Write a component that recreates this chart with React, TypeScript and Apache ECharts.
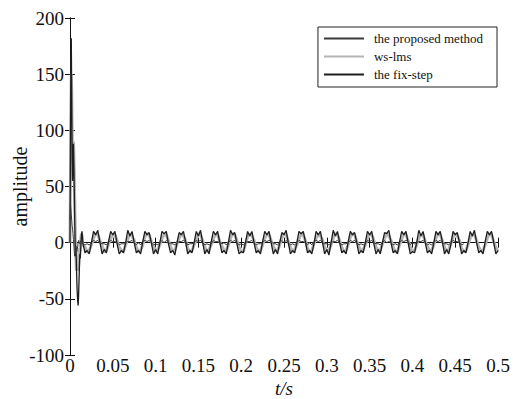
import React, { useEffect, useRef } from "react";
import * as echarts from "echarts";

const seriesNames = ["the proposed method", "ws-lms", "the fix-step"];
const xTicks = { min: 0, max: 0.5, interval: 0.05 };
const yTicks = { min: -100, max: 200, interval: 50 };

// start-up transient, sampled every 0.0005 s from 0 to 0.015 s
const transientStep = 0.0005;
const proposedTransient = [20, 35, 30, 25, 20, 15, 12, 8, 3, -2, -8, -12, -10, -6, -3, -5, -8, -6, -3, 0, 2, 1, 0, -1, 0, 1, 2, 1, 0, -1, -1];
const wslmsTransient = [0, 50, 120, 150, 135, 100, 80, 85, 90, 80, 60, 40, 15, -5, -15, -25, -20, -12, -18, -25, -22, -12, -5, -8, -4, 2, 6, 8, 6, 2, -2];
const fixstepTransient = [0, 80, 160, 182, 130, 75, 55, 70, 88, 70, 46, 20, 0, -12, -5, -20, -35, -45, -52, -56, -48, -35, -22, -10, -14, -6, 2, 8, 10, 6, 0];

// steady state, sampled every 0.0025 s from 0.0175 s to 0.5 s
const steadyStart = 0.015;
const steadyStep = 0.0025;
const proposedSteady = [
  -2, -1, -2, 0, 2, 1, 2, 0, -1, -1, -2, 0, 2, 1, 1, 0, -2, -1, -1, 0, 1, 1, 2, 0,
  -2, 0, -2, 1, 2, 1, 2, 0, -2, -1, -2, 0, 2, 0, 2, 0, -1, -1, -2, 0, 1, 1, 2, 1,
  -2, -1, -1, 0, 2, 1, 2, 0, -2, -1, -2, -1, 2, 1, 1, 0, -1, 0, -2, 0, 2, 1, 2, 0,
  -2, -1, -2, 0, 1, 1, 2, 0, -2, -1, -1, 0, 2, 1, 2, 1, -1, -1, -2, 0, 2, 0, 2, 0,
  -2, -1, -2, 0, 2, 1, 1, 0, -2, 0, -2, 1, 2, 1, 2, 0, -1, -1, -2, 0, 1, 1, 2, 0,
  -2, -1, -1, 0, 2, 1, 2, 0, -2, -1, -2, -1, 2, 1, 2, 0, -1, -1, -2, 0, 2, 0, 1, 0,
  -2, -1, -2, 0, 2, 1, 2, 1, -2, 0, -1, 0, 1, 1, 2, 0, -2, -1, -2, 0, 2, 1, 2, 0,
  -1, -1, -2, 0, 2, 1, 1, 0, -2, -1
];
const wslmsSteady = [
  -4, -8, -7, -2, 4, 8, 7, 2, -3, -8, -7, -1, 4, 7, 7, 2, -4, -7, -8, -2, 3, 8, 6, 2,
  -4, -8, -7, -2, 5, 8, 7, 1, -3, -8, -6, -2, 4, 7, 7, 2, -4, -7, -7, -1, 4, 8, 6, 2,
  -5, -8, -7, -2, 3, 8, 7, 2, -4, -8, -6, -2, 4, 7, 7, 1, -3, -7, -7, -2, 4, 8, 7, 2,
  -4, -8, -8, -1, 5, 8, 6, 2, -4, -8, -7, -2, 4, 7, 7, 2, -3, -7, -7, -2, 4, 8, 7, 1,
  -4, -8, -6, -2, 3, 8, 7, 2, -5, -8, -7, -1, 4, 7, 6, 2, -4, -7, -7, -2, 4, 8, 7, 2,
  -4, -8, -7, -2, 5, 8, 7, 1, -3, -8, -6, -2, 4, 7, 7, 2, -4, -7, -7, -1, 4, 8, 6, 2,
  -4, -8, -8, -2, 3, 8, 7, 2, -4, -8, -7, -2, 4, 7, 7, 1, -3, -7, -7, -2, 4, 8, 7, 2,
  -4, -8, -6, -1, 5, 8, 6, 2, -5, -8, -7, -2, 4, 7, 7, 2, -4, -7, -7, -2, 4, 8, 7, 1,
  -4, -8
];
const fixstepSteady = [
  -9, -7, -10, 0, 10, 7, 11, 0, -10, -6, -9, 1, 10, 7, 10, -1, -10, -7, -9, 0, 11, 6, 10, 0,
  -9, -7, -10, 1, 10, 7, 9, 0, -10, -6, -10, 0, 10, 8, 10, -1, -9, -7, -11, 0, 9, 7, 10, 1,
  -10, -7, -9, 0, 10, 6, 11, 0, -10, -6, -10, 1, 10, 7, 10, 0, -9, -7, -10, 0, 11, 7, 9, -1,
  -10, -8, -9, 0, 10, 6, 10, 0, -9, -7, -10, 1, 10, 7, 10, 0, -10, -6, -10, 0, 9, 7, 11, 0,
  -10, -7, -9, 0, 10, 8, 10, 1, -9, -7, -10, -1, 10, 7, 10, 0, -10, -6, -11, 0, 11, 6, 10, 0,
  -9, -7, -10, 1, 10, 7, 9, 0, -10, -7, -9, 0, 10, 7, 10, -1, -10, -6, -10, 0, 9, 8, 11, 0,
  -9, -7, -10, 1, 10, 7, 10, 0, -10, -8, -9, 0, 11, 6, 10, 0, -9, -7, -10, 0, 10, 7, 10, 1,
  -10, -6, -10, -1, 10, 7, 9, 0, -10, -7, -9, 0, 10, 6, 11, 0, -9, -7, -10, 1, 10, 7, 10, 0,
  -10, -7
];

function toPairs(transient: number[], steady: number[]): [number, number][] {
  const out: [number, number][] = [];
  transient.forEach((v, i) => out.push([+(i * transientStep).toFixed(4), v]));
  steady.forEach((v, j) => out.push([+(steadyStart + (j + 1) * steadyStep).toFixed(4), v]));
  return out;
}

const FONT = "Liberation Serif";

export default function App() {
  const ref = useRef<HTMLDivElement>(null);
  useEffect(() => {
    if (!ref.current) return;
    const chart = echarts.init(ref.current, undefined, { renderer: "svg" });
    const axisLine = { show: true, lineStyle: { color: "#111", width: 1 } };
    const tick = { show: true, inside: true, length: 5, lineStyle: { color: "#111" } };
    const fmt = (v: number) => String(Math.round(v * 1000) / 1000);
    chart.setOption({
      animation: false,
      backgroundColor: "#fff",
      grid: { left: 70, right: 15, top: 18, bottom: 44, containLabel: false, outerBoundsMode: "none" },
      legend: {
        orient: "vertical",
        right: 16,
        top: 27,
        icon: "rect",
        itemWidth: 40,
        itemHeight: 2,
        itemGap: 5,
        padding: [5, 14, 6, 6],
        borderColor: "#222",
        borderWidth: 1,
        backgroundColor: "#fff",
        textStyle: { fontFamily: FONT, fontSize: 13, color: "#111", padding: [0, 0, 0, 5] },
        data: seriesNames,
      },
      xAxis: [
        {
          type: "value",
          ...xTicks,
          position: "bottom",
          axisLine,
          axisTick: tick,
          splitLine: { show: false },
          axisLabel: { fontFamily: FONT, fontSize: 19, color: "#111", margin: 1, formatter: fmt },
          name: "t/s",
          nameLocation: "middle",
          nameGap: 24,
          nameMoveOverlap: false,
          nameTextStyle: { fontFamily: FONT, fontSize: 19, fontStyle: "italic", color: "#111" },
        },
        {
          type: "value",
          ...xTicks,
          position: "top",
          axisLine,
          axisTick: tick,
          splitLine: { show: false },
          axisLabel: { show: false },
        },
      ],
      yAxis: [
        {
          type: "value",
          ...yTicks,
          position: "left",
          axisLine,
          axisTick: tick,
          splitLine: { show: false },
          axisLabel: { fontFamily: FONT, fontSize: 19, color: "#111", margin: 6 },
          name: "amplitude",
          nameLocation: "middle",
          nameGap: 40,
          nameMoveOverlap: false,
          nameTextStyle: { fontFamily: FONT, fontSize: 20, color: "#111" },
        },
        {
          type: "value",
          ...yTicks,
          position: "right",
          axisLine,
          axisTick: tick,
          splitLine: { show: false },
          axisLabel: { show: false },
        },
      ],
      series: [
        {
          name: seriesNames[0],
          type: "line",
          showSymbol: false,
          z: 3,
          data: toPairs(proposedTransient, proposedSteady),
          lineStyle: { color: "#3a3a3a", width: 1 },
          itemStyle: { color: "#3a3a3a" },
        },
        {
          name: seriesNames[1],
          type: "line",
          showSymbol: false,
          z: 1,
          data: toPairs(wslmsTransient, wslmsSteady),
          lineStyle: { color: "#b4b4b4", width: 3 },
          itemStyle: { color: "#b4b4b4" },
        },
        {
          name: seriesNames[2],
          type: "line",
          showSymbol: false,
          z: 2,
          data: toPairs(fixstepTransient, fixstepSteady),
          lineStyle: { color: "#1e1e1e", width: 1.3 },
          itemStyle: { color: "#1e1e1e" },
        },
      ],
    });
    return () => chart.dispose();
  }, []);
  return <div ref={ref} style={{ position: "fixed", left: 0, top: 0, width: 513, height: 399 }} />;
}
